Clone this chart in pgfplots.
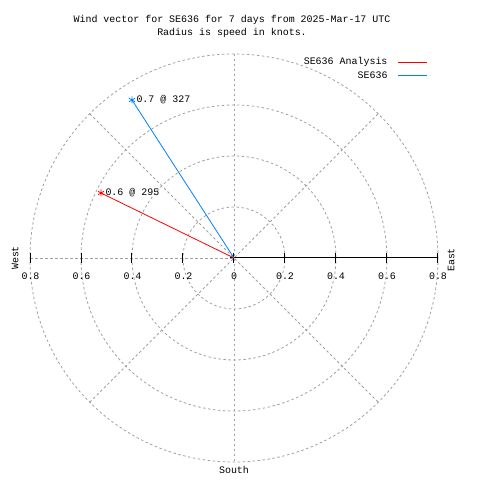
\documentclass[border=0pt]{standalone}
\usepackage{pgfplots}
\pgfplotsset{compat=1.18}
\usepackage{fontspec}
\newfontfamily\mono{Liberation Mono}
\definecolor{gridgray}{RGB}{160,160,160}
\definecolor{vblue}{RGB}{0,128,255}
\begin{document}
\begin{tikzpicture}[font=\mono\fontsize{10}{12}\selectfont]
\path[use as bounding box] (0,0) rectangle (480bp,480bp);
\begin{axis}[at={(0,0)}, anchor=south west,
  scale only axis, width=480bp, height=480bp,
  xmin=-0.917647, xmax=0.964706, ymin=-0.870588, ymax=1.011765,
  hide axis, clip=false]
  % polar grid
  \pgfplotsinvokeforeach{0.2,0.4,0.6,0.8}{
    \draw[gridgray, line width=0.8bp, dash pattern=on 2.5bp off 2.5bp] (axis cs:0,0) circle[radius=#1*255bp];
  }
  \draw[gridgray, line width=0.8bp, dash pattern=on 2.5bp off 2.5bp] (axis cs:0,0.8) -- (axis cs:0,-0.8);
  \draw[gridgray, line width=0.8bp, dash pattern=on 2.5bp off 2.5bp] (axis cs:-0.8,0) -- (axis cs:0,0);
  \draw[gridgray, line width=0.8bp, dash pattern=on 2.5bp off 2.5bp] (axis cs:-0.565685,-0.565685) -- (axis cs:0.565685,0.565685);
  \draw[gridgray, line width=0.8bp, dash pattern=on 2.5bp off 2.5bp] (axis cs:-0.565685,0.565685) -- (axis cs:0.565685,-0.565685);
  % radial axis
  \draw[black, line width=1bp] (axis cs:0,0) -- (axis cs:0.8,0);
  \pgfplotsinvokeforeach{-0.8,-0.6,-0.4,-0.2,0,0.2,0.4,0.6,0.8}{
    \draw[black, line width=1bp] ([yshift=-5bp]axis cs:#1,0) -- ([yshift=5bp]axis cs:#1,0);
  }
  \draw[black, line width=1bp] ([xshift=-4bp]axis cs:0,0) -- ([xshift=4bp]axis cs:0,0);
  % data
  \addplot[red, line width=0.8bp] coordinates {(0,0) (-0.5216,0.2549)};
  \addplot[red, only marks, mark=asterisk, mark size=3.5bp, mark options={line width=0.8bp}] coordinates {(-0.5216,0.2549)};
  \addplot[vblue, line width=0.8bp] coordinates {(0,0) (-0.4000,0.6196)};
  \addplot[vblue, only marks, mark=asterisk, mark size=3.5bp, mark options={line width=0.8bp}] coordinates {(-0.4000,0.6196)};
\end{axis}
% labels (pixel positions: x, 480-y)
\node at (232bp,460bp) {Wind vector for SE636 for 7 days from 2025-Mar-17 UTC};
\node at (232bp,447bp) {Radius is speed in knots.};
\node[anchor=east] at (391bp,418bp) {SE636 Analysis};
\node[anchor=east] at (391bp,405bp) {SE636};
\draw[red, line width=0.8bp] (398bp,418bp) -- (427bp,418bp);
\draw[vblue, line width=0.8bp] (398bp,405bp) -- (427bp,405bp);
\node[anchor=west] at (133bp,380bp) {0.7 @ 327};
\node[anchor=west] at (102bp,287bp) {0.6 @ 295};
\foreach \px/\lab in {30.5/0.8,81.5/0.6,132.5/0.4,183.5/0.2,234/0,285/0.2,336/0.4,387/0.6,438/0.8}{
  \node at (\px bp,204bp) {\lab};
}
\node[rotate=90] at (15bp,222bp) {West};
\node[rotate=90] at (451bp,220bp) {East};
\node at (234bp,10bp) {South};
\end{tikzpicture}
\end{document}
